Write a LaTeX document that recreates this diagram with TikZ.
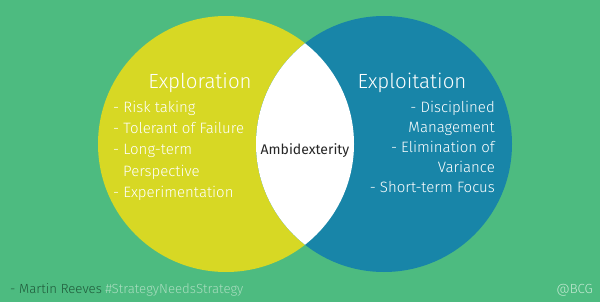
\documentclass[tikz,border=0pt]{standalone}
\usepackage{fontspec}
\setmainfont{Fira Sans Light}
\definecolor{bggreen}{HTML}{4DBB80}
\definecolor{yel}{HTML}{D7D824}
\definecolor{blu}{HTML}{1885A8}
\definecolor{darkgreen}{HTML}{1F5A3A}
\definecolor{lightgreen}{HTML}{A9DDBF}
\definecolor{atgreen}{HTML}{C5EAD3}
\tikzset{
  title/.style={text=white, font=\fontsize{20.5}{24}\selectfont, inner sep=0pt},
  item/.style={text=white, font=\fontsize{15}{17}\selectfont, inner sep=0pt},
  foot/.style={font=\fontsize{13.2}{15}\selectfont, inner sep=0pt}
}
\begin{document}
\begin{tikzpicture}[x=1pt,y=-1pt]
\useasboundingbox (0,0) rectangle (600,302);
\fill[bggreen] (0,0) rectangle (600,302);
\coordinate (cl) at (226,144);
\coordinate (cr) at (384,144);
\fill[yel] (cl) circle[radius=128];
\fill[blu] (cr) circle[radius=128];
\begin{scope}
  \clip (cl) circle[radius=128];
  \fill[white] (cr) circle[radius=128];
\end{scope}
% left
\node[title, anchor=base] (t1) at (200,89) {Exploration};
\node[item, anchor=base west] (l1) at (113,113) {- Risk taking};
\node[item, anchor=base west] (l2) at (113,134) {- Tolerant of Failure};
\node[item, anchor=base west] (l3) at (113,155) {- Long-term};
\node[item, anchor=base west] (l4) at (123,176) {Perspective};
\node[item, anchor=base west] (l5) at (113,197) {- Experimentation};
% right
\node[title, anchor=base] (t2) at (412,89) {Exploitation};
\node[item, anchor=base east] (r1) at (495,113) {- Disciplined};
\node[item, anchor=base east] (r2) at (495,133) {Management};
\node[item, anchor=base east] (r3) at (495,153) {- Elimination of};
\node[item, anchor=base east] (r4) at (495,173) {Variance};
\node[item, anchor=base east] (r5) at (495,193) {- Short-term Focus};
% middle
\node[inner sep=0pt, text=black!85, font=\fontspec{Fira Sans}\fontsize{14}{16}\selectfont, anchor=base] (m) at (305,155) {Ambidexterity};
% footer
\node[foot, anchor=base west, text=darkgreen] (f1) at (10,293) {- Martin Reeves};
\node[foot, anchor=base west, text=lightgreen] (f2) at ([xshift=3pt]f1.base east) {\#StrategyNeedsStrategy};
\node[foot, anchor=base east, text=atgreen] (f3) at (593,293) {@BCG};
\end{tikzpicture}
\end{document}
